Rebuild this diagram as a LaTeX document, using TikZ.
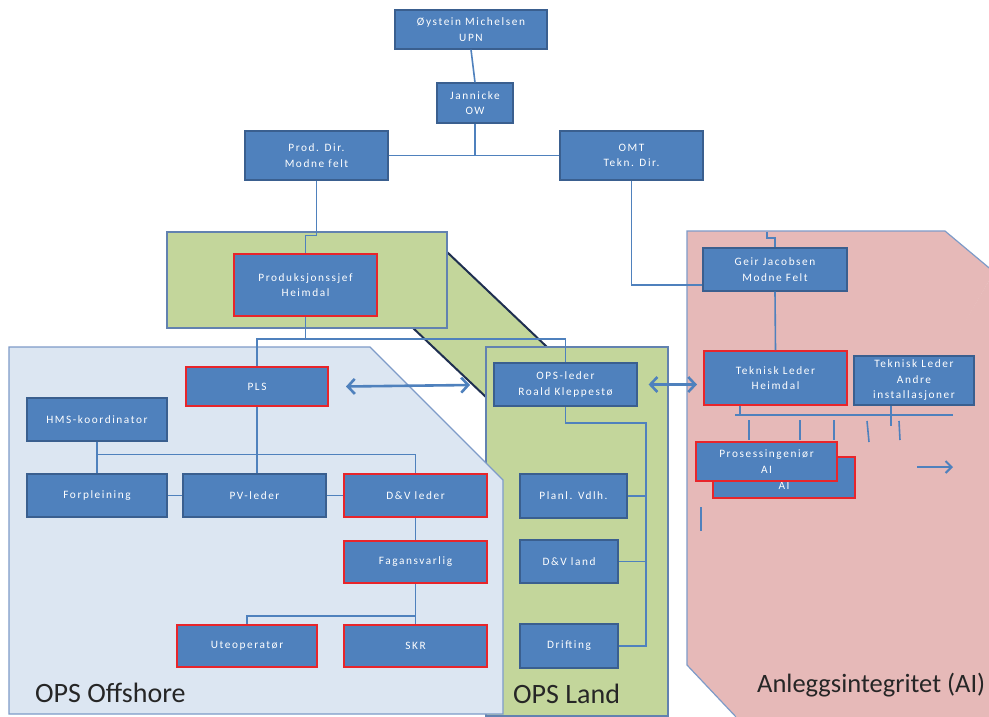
\documentclass[tikz,border=0pt]{standalone}
\usepackage{fontspec}
\setmainfont{Carlito}
\newfontfamily\labfont[LetterSpace=14]{Carlito}
\newfontfamily\regfont{Carlito}
\usetikzlibrary{arrows.meta}
\definecolor{boxblue}{HTML}{4F81BD}
\definecolor{bdr}{HTML}{3A5F8F}
\definecolor{redc}{HTML}{E8252B}
\definecolor{linec}{HTML}{4F81BD}
\definecolor{offfill}{HTML}{DCE6F2}
\definecolor{regbdr}{HTML}{7E9BC8}
\definecolor{greenf}{HTML}{C3D69B}
\definecolor{greenb}{HTML}{6282B0}
\definecolor{pinkf}{HTML}{E6B9B8}
\definecolor{navy}{HTML}{1F2F50}
\definecolor{labc}{HTML}{262626}
\tikzset{
  box/.style={draw=bdr, line width=1.2pt, fill=boxblue, text=white,
    font=\labfont\fontsize{11.3}{15.5}\selectfont, align=center, inner sep=1pt},
  redbox/.style={box, draw=redc, line width=2pt},
  conn/.style={draw=linec, line width=1.6pt},
  dbl/.style={draw=linec, line width=2.6pt, {Straight Barb[length=7pt,width=15pt]}-{Straight Barb[length=7pt,width=15pt]}},
  sgl/.style={draw=linec, line width=2pt, -{Straight Barb[length=6pt,width=12pt]}},
  region/.style={line width=1.2pt},
  reglabel/.style={text=labc, font=\regfont\fontsize{28}{32}\selectfont, inner sep=0pt, anchor=base west}
}
\begin{document}
\begin{tikzpicture}[x=1pt,y=-1pt]
\useasboundingbox[fill=white] (0,0) rectangle (989,716);
% regions
\fill[greenf] (447,252) -- (547,347) -- (487,347) -- (487,398) -- (413,328) -- cycle;
\draw[navy, line width=2pt] (447,252) -- (547,347);
\draw[navy, line width=2pt] (413,328) -- (487,398);
\draw[region, fill=greenf, draw=greenb] (167,232) rectangle (447,328);
\draw[region, fill=greenf, draw=greenb] (486,347) rectangle (668,716);
\draw[region, fill=offfill, draw=regbdr] (9,347) -- (370,347) -- (503,480) -- (503,714) -- (9,714) -- cycle;
\draw[region, fill=pinkf, draw=regbdr] (994,272) -- (945,231) -- (687,231) -- (687,665) -- (737,718);
\fill[pinkf] (994,272) -- (994,718) -- (737,718) -- (735,714) -- cycle;
\node[reglabel] (lofs) at (35,702) {OPS Offshore};
\node[reglabel] (lland) at (513,703) {OPS Land};
\node[reglabel, font=\regfont\fontsize{26.5}{30}\selectfont] (lai) at (757,692) {Anleggsintegritet (AI)};

% nodes
\node[box, minimum width=152pt, minimum height=39pt] (ost) at (471,29.5) {Øystein Michelsen\\UPN};
\node[box, minimum width=76pt, minimum height=40pt] (jan) at (475,103) {Jannicke\\OW};
\node[box, minimum width=143pt, minimum height=49pt] (prod) at (316.5,155.5) {Prod. Dir.\\Modne felt};
\node[box, minimum width=143pt, minimum height=49pt] (omt) at (631.5,155.5) {OMT\\Tekn. Dir.};
\node[redbox, minimum width=143pt, minimum height=62pt] (psj) at (305.5,285) {Produksjonssjef\\Heimdal};
\node[box, minimum width=144pt, minimum height=43pt] (geir) at (775,269.5) {Geir Jacobsen\\Modne Felt};
\node[redbox, minimum width=142pt, minimum height=39pt] (pls) at (257,386.5) {PLS};
\node[box, minimum width=140pt, minimum height=43pt] (hms) at (97,419.5) {HMS-koordinator};
\node[box, minimum width=140pt, minimum height=43pt] (forp) at (97,495.5) {Forpleining};
\node[box, minimum width=143pt, minimum height=43pt] (pv) at (254.5,495.5) {PV-leder};
\node[redbox, minimum width=143pt, minimum height=43pt] (dv) at (415.5,495.5) {D\&V leder};
\node[redbox, minimum width=143pt, minimum height=42pt] (fag) at (415.5,562) {Fagansvarlig};
\node[redbox, minimum width=140pt, minimum height=42pt] (ute) at (247,646) {Uteoperatør};
\node[redbox, minimum width=143pt, minimum height=42pt] (skr) at (415.5,646) {SKR};
\node[box, minimum width=143pt, minimum height=43pt] (opsl) at (565.5,384.5) {OPS-leder\\Roald Kleppestø};
\node[box, minimum width=107pt, minimum height=44pt] (planl) at (573.5,496) {Planl. Vdlh.};
\node[box, minimum width=98pt, minimum height=43pt] (dvl) at (569,561.5) {D\&V land};
\node[box, minimum width=98pt, minimum height=44pt] (drift) at (569,646) {Drifting};
\node[redbox, minimum width=143pt, minimum height=54pt] (tlh) at (775.5,378) {Teknisk Leder\\Heimdal};
\node[box, minimum width=120pt, minimum height=49pt] (tla) at (914,380.5) {Teknisk Leder\\Andre\\installasjoner};
\node[redbox, minimum width=142pt, minimum height=41pt] (pib) at (784,477.5) {\phantom{Prosessingeniør}\\AI};
\node[redbox, minimum width=141pt, minimum height=39pt] (pif) at (766.5,461.5) {Prosessingeniør\\AI};

% connectors
\draw[conn] (ost.south) -- (jan.north);
\draw[conn] (jan.south) |- (prod.east);
\draw[conn] (jan.south) |- (omt.west);
\draw[conn] (prod.south) -- ++(0,55) -| (psj.north);
\draw[conn] (omt.south) |- ([yshift=-15.5pt]geir.west);
\coordinate (gtop) at (767,232);
\draw[conn, line width=1.2pt] (gtop) -- ++(0,6) -| (geir.north);
\draw[conn] (geir.south) -- (tlh.north);
\draw[conn] (psj.south) -- ++(0,22) coordinate (b1);
\draw[conn] (pls.north) |- (b1) -| (opsl.north);
\coordinate (lbus) at (646,423);
\draw[conn] (opsl.south) |- (lbus) |- (drift.east);
\draw[conn] (planl.east) -- (planl.east -| lbus);
\draw[conn] (dvl.east) -- (dvl.east -| lbus);
\draw[conn] (pls.south) -- (pls.south |- pv.north);
\draw[conn] (hms.south) -- (forp.north);
\draw[conn] ([yshift=19pt]forp.north) -| (dv.north);
\draw[conn] (forp.east) -- (pv.west);
\draw[conn] (pv.east) -- (dv.west);
\draw[conn] (dv.south) -- (fag.north);
\draw[conn] (fag.south) -- (skr.north);
\draw[conn] ([yshift=8pt]skr.north) -| (ute.north);
% AI bus
\coordinate (aibl) at (735,415);
\coordinate (aibr) at (953,415);
\draw[conn] (aibl) -- (aibr);
\draw[conn] ([xshift=-35.5pt]tlh.south) -- ++(0,10);
\draw[conn] ([xshift=-23pt]tla.south) -- ++(0,20);
\draw[conn] (749,420) -- (749,440);
\draw[conn] (800,420) -- (800,440);
\draw[conn] (834,420) -- (834,440);
\draw[conn] (867,421) -- (869,442);
\draw[conn] (899,421) -- (900,440);
\draw[conn] (701,507) -- (701,531);
% arrows
\coordinate (a1) at (470,385);
\draw[dbl] ([xshift=17pt]pls.east) -- (a1);
\coordinate (a2) at (697,384.5);
\draw[dbl] ([xshift=11pt]opsl.east) -- (a2);
\coordinate (a3s) at (917,467);
\coordinate (a3e) at (953,467);
\draw[sgl] (a3s) -- (a3e);
\end{tikzpicture}
\end{document}
